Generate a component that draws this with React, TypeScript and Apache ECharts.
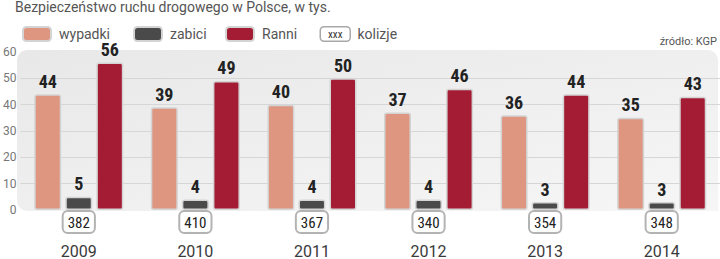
import React, { useEffect, useRef } from "react";
import * as echarts from "echarts";

const years = ["2009", "2010", "2011", "2012", "2013", "2014"];
const wypadki = [44, 39, 40, 37, 36, 35];
const zabici = [5, 4, 4, 4, 3, 3];
const ranni = [56, 49, 50, 46, 44, 43];
const kolizje = [382, 410, 367, 340, 354, 348];
const yTicks = [0, 10, 20, 30, 40, 50, 60];

const C_WYP = "#DE9681";
const C_ZAB = "#4A4A4A";
const C_RAN = "#A41C34";
const NUM_FONT = "'Roboto Condensed', Roboto, sans-serif";
const TXT_FONT = "Roboto, 'Noto Sans', sans-serif";

export default function App() {
  const ref = useRef<HTMLDivElement>(null);
  useEffect(() => {
    if (!ref.current) return;
    const chart = echarts.init(ref.current, undefined, { renderer: "svg" });
    const barBase = {
      type: "bar" as const,
      barWidth: 27,
      barGap: "15%",
      label: {
        show: true,
        position: "top" as const,
        distance: 4,
        fontFamily: NUM_FONT,
        fontWeight: "bold" as const,
        fontSize: 18,
        color: "#222",
      },
    };
    const legendCommon = {
      top: 21,
      itemWidth: 28,
      itemHeight: 14,
      icon: "roundRect",
      textStyle: { fontFamily: TXT_FONT, fontSize: 14, color: "#555", padding: [0, 0, 0, 3] },
      selectedMode: false,
    };
    chart.setOption({
      animation: false,
      title: {
        text: "Bezpieczeństwo ruchu drogowego w Polsce, w tys.",
        left: 15,
        top: 0,
        padding: 0,
        textStyle: { fontFamily: TXT_FONT, fontSize: 14, fontWeight: "normal", color: "#555" },
      },
      legend: [
        { ...legendCommon, left: 17, data: ["wypadki"] },
        { ...legendCommon, left: 128, data: ["zabici"] },
        { ...legendCommon, left: 220, data: ["Ranni"] },
        {
          ...legendCommon,
          left: 311,
          itemWidth: 0,
          data: [{ name: "kolizje", icon: "none" }],
          formatter: () => "{box|xxx}{t|kolizje}",
          textStyle: {
            padding: 0,
            rich: {
              box: {
                fontFamily: NUM_FONT,
                fontSize: 11,
                color: "#333",
                borderColor: "#a8a8a8",
                borderWidth: 1.5,
                borderRadius: 3,
                padding: [1, 7, 1, 7],
                lineHeight: 12,
                backgroundColor: "#fff",
              },
              t: { fontFamily: TXT_FONT, fontSize: 14, color: "#555", padding: [0, 0, 0, 8] },
            },
          },
        },
      ],
      graphic: [
        {
          type: "rect",
          z: -10,
          silent: true,
          shape: { x: 17, y: 50, width: 701, height: 161, r: [10, 10, 0, 10] },
          style: {
            fill: new echarts.graphic.LinearGradient(0, 0, 1, 1, [
              { offset: 0, color: "#e8e8e8" },
              { offset: 1, color: "#f6f6f6" },
            ]),
          },
        },
        {
          type: "text",
          right: 3,
          top: 36,
          style: { text: "źródło: KGP", fontFamily: TXT_FONT, fontSize: 11, fill: "#555" },
        },
      ],
      grid: { left: 17, right: 0, top: 52, bottom: 49 },
      xAxis: {
        type: "category",
        data: years,
        axisLine: { show: false },
        axisTick: { show: false },
        axisLabel: {
          margin: 4,
          interval: 0,
          formatter: (v: string, i: number) => `{box|${kolizje[i]}}\n{year|${v}}`,
          rich: {
            box: {
              fontFamily: NUM_FONT,
              fontSize: 15,
              color: "#222",
              lineHeight: 16,
              padding: [3, 4, 2, 4],
              borderColor: "#b3b3b3",
              borderWidth: 2,
              borderRadius: 4,
              backgroundColor: "#fff",
            },
            year: {
              fontFamily: TXT_FONT,
              fontSize: 16,
              color: "#3a3a3a",
              lineHeight: 29,
              verticalAlign: "bottom",
            },
          },
        },
      },
      yAxis: {
        type: "value",
        min: 0,
        max: 60,
        interval: 10,
        axisLine: { show: false },
        axisTick: { show: false },
        axisLabel: {
          margin: 4,
          fontFamily: TXT_FONT,
          fontSize: 12,
          color: "#777",
          formatter: (v: number) => (yTicks.includes(v) ? String(v) : ""),
        },
        splitLine: { show: true, showMinLine: false, showMaxLine: false, lineStyle: { color: "#d6d6d6", width: 1 } },
      },
      series: [
        {
          ...barBase,
          name: "wypadki",
          data: wypadki,
          itemStyle: { color: C_WYP, borderColor: "#d4d4d4", borderWidth: 1.5, borderRadius: 2 },
        },
        {
          ...barBase,
          name: "zabici",
          data: zabici,
          itemStyle: { color: C_ZAB, borderColor: "#d4d4d4", borderWidth: 1.5, borderRadius: 2 },
        },
        {
          ...barBase,
          name: "Ranni",
          data: ranni,
          itemStyle: { color: C_RAN, borderColor: "#d4d4d4", borderWidth: 1.5, borderRadius: 2 },
        },
        { type: "line", name: "kolizje", data: [], showSymbol: false },
      ],
    });
    return () => chart.dispose();
  }, []);
  return <div ref={ref} style={{ width: 720, height: 259, position: "absolute", left: 0, top: 0 }} />;
}
